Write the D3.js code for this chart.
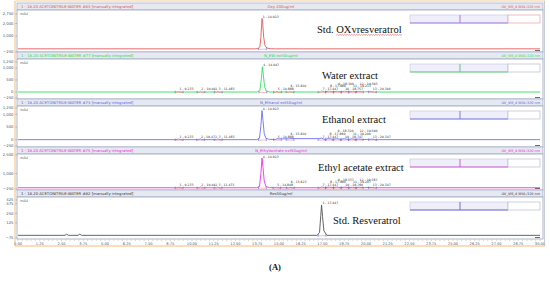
<!DOCTYPE html>
<html>
<head>
<meta charset="utf-8">
<script src="https://cdn.jsdelivr.net/npm/d3@7"></script>
<style>
  body { margin: 0; background: #fff; }
  svg text { font-family: "DejaVu Sans", sans-serif; }
  svg text.serif { font-family: "Liberation Serif", serif; }
</style>
</head>
<body>
<svg id="chart" width="550" height="281"></svg>
<script>
// ---- data (time in min, signal in mAU) ----
const xTickValues = [0, 1.25, 2.5, 3.75, 5, 6.25, 7.5, 8.75, 10, 11.25, 12.5, 13.75, 15,
  16.25, 17.5, 18.75, 20, 21.25, 22.5, 23.75, 25, 26.25, 27.5, 28.75, 30];

const sampleNames = ["Oxy 200ug/ml", "N_EW ext50ug/ml", "N_Ethanol ext50ug/ml",
  "N_Ethylacetate ext50ug/ml", "Res50ug/ml"];
const injectionNames = [
  "1 - 18.20  ACETONITRILE:WATER #83 [manually integrated]",
  "1 - 18.20  ACETONITRILE:WATER #77 [manually integrated]",
  "1 - 18.20  ACETONITRILE:WATER #73 [manually integrated]",
  "1 - 18.20  ACETONITRILE:WATER #75 [manually integrated]",
  "1 - 18.20  ACETONITRILE:WATER #82 [manually integrated]"
];
const channelName = "UV_VIS_4 WVL:320 nm";
const annotations = ["Std. OXvresveratrol", "Water extract", "Ethanol extract",
  "Ethyl acetate extract", "Std. Resveratrol"];

const yDomains = [[-250, 2750], [-250, 1250], [-250, 1250], [-250, 2500], [-75, 425]];
const yTicks = [
  [2750, 2000, 1000, -250],
  [1250, 1000, 500, 0, -250],
  [1250, 1000, 500, 0, -250],
  [2500, 1000, -250],
  [425, 375, 250, 125, -75]
];

const oxyTrace = [[0, 0], [13.6, 0], [13.8, 20], [13.9, 150], [13.96, 900], [14.0, 1900],
  [14.023, 2400], [14.06, 2050], [14.12, 900], [14.2, 250], [14.3, 60], [14.5, 10], [14.8, 0], [30, 0]];

const waterTrace = [[0, 0], [9.15, 0], [9.233, 25], [9.31, 0], [10.42, 0], [10.492, 30], [10.56, 0],
  [11.41, 0], [11.483, 35], [11.55, 0], [13.75, 0], [13.9, 60], [13.98, 520], [14.047, 1050],
  [14.1, 720], [14.17, 220], [14.27, 40], [14.45, 0], [14.82, 0], [14.888, 30], [14.95, 0],
  [15.55, 0], [15.61, 25], [15.68, 0], [17.38, 0], [17.447, 40], [17.6, 10], [17.88, 35],
  [18.1, 10], [18.34, 30], [18.55, 10], [18.757, 30], [19.0, 10], [19.213, 25], [19.4, 10],
  [19.593, 25], [19.9, 5], [20.34, 20], [20.5, 0], [30, 0]];

const ethanolTrace = [[0, 0], [9.15, 0], [9.233, 25], [9.31, 0], [10.4, 0], [10.472, 30], [10.54, 0],
  [11.41, 0], [11.483, 30], [11.55, 0], [13.72, 0], [13.88, 60], [13.96, 560], [14.023, 1150],
  [14.08, 760], [14.15, 240], [14.25, 50], [14.45, 10], [14.82, 10], [14.888, 45], [14.95, 30],
  [15.55, 35], [15.61, 60], [15.68, 40], [17.3, 40], [17.447, 60], [17.6, 15], [17.86, 40],
  [18.1, 15], [18.32, 35], [18.55, 15], [18.747, 35], [19.0, 10], [19.2, 30], [19.4, 10],
  [19.59, 25], [19.9, 5], [20.347, 20], [20.5, 0], [30, 0]];

const ethylTrace = [[0, -150], [9.15, -150], [9.233, -110], [9.31, -150], [10.42, -150], [10.492, -100],
  [10.56, -150], [11.4, -150], [11.473, -100], [11.55, -150], [13.72, -150], [13.88, -40],
  [13.96, 1000], [14.023, 2250], [14.08, 1500], [14.15, 400], [14.25, -60], [14.45, -140],
  [14.78, -150], [14.848, -100], [14.92, -150], [15.55, -150], [15.623, -110], [15.7, -150],
  [17.37, -150], [17.447, -90], [17.6, -140], [17.88, -100], [18.1, -140], [18.337, -100],
  [18.55, -140], [18.76, -100], [19.0, -140], [19.207, -110], [19.4, -140], [19.587, -110],
  [19.9, -145], [20.347, -120], [20.5, -150], [30, -150]];

const resTrace = [[0, -40], [2.7, -40], [2.8, -25], [2.9, -40], [3.45, -40], [3.55, -25], [3.65, -40],
  [17.2, -40], [17.33, 0], [17.4, 220], [17.447, 360], [17.5, 210], [17.58, 20], [17.75, -40], [30, -40]];

const traces = [oxyTrace, waterTrace, ethanolTrace, ethylTrace, resTrace];

// labelled peaks (retention times)
const oxyPeaks = [14.023];
const waterPeaks = [9.233, 10.492, 11.483, 14.047, 14.888, 15.610, 17.447, 17.880, 18.340, 18.757, 19.213, 19.593, 20.340];
const ethanolPeaks = [9.233, 10.472, 11.483, 14.023, 14.888, 15.610, 17.447, 17.860, 18.320, 18.747, 19.200, 19.590, 20.347];
const ethylPeaks = [9.233, 10.492, 11.473, 14.023, 14.848, 15.623, 17.447, 17.880, 18.337, 18.760, 19.207, 19.587, 20.347];
const resPeaks = [17.447];
const peakLists = [oxyPeaks, waterPeaks, ethanolPeaks, ethylPeaks, resPeaks];
const mainPeakIndex = [0, 3, 3, 3, 0];

// ---- styling / layout ----
const traceColors = ["#e8585a", "#2fe05a", "#6f6ff0", "#f030e0", "#555555"];
const headColors = ["#e05050", "#22dd44", "#5b5bf0", "#ee22dd", "#333333"];
const legendColors = ["#a070e0", "#50cc70", "#7070e8", "#d050d0", "#6060d0"];
const panels = [
  { hy: 3, top: 10, bot: 52, r: [52, 14] },
  { hy: 52, top: 59, bot: 99, r: [98, 62] },
  { hy: 99, top: 106, bot: 147, r: [146, 108] },
  { hy: 147, top: 154, bot: 190, r: [189, 155] },
  { hy: 190, top: 197, bot: 239, r: [238, 200] }
];
const annoY = [33, 79, 123, 171, 224];
const annoX = [317, 322, 322, 318, 333];

const svg = d3.select("#chart");
const x = d3.scaleLinear().domain([0, 30]).range([18, 540]);
const fmtY = d3.format(",");

panels.forEach((p, i) => {
  const y = d3.scaleLinear().domain(yDomains[i]).range(p.r);
  const g = svg.append("g");

  // header bar
  g.append("rect").attr("x", 17).attr("y", p.hy).attr("width", 526).attr("height", p.top - p.hy)
    .attr("fill", "#e6e9f1").attr("stroke", "#a4adc2").attr("stroke-width", 0.7);
  g.append("text").attr("x", 21).attr("y", p.hy + 4.8).attr("font-size", 3.8)
    .attr("fill", headColors[i]).text(injectionNames[i]);
  g.append("text").attr("x", 281).attr("y", p.hy + 4.8).attr("font-size", 3.8)
    .attr("text-anchor", "middle").attr("fill", headColors[i]).text(sampleNames[i]);
  g.append("text").attr("x", 540).attr("y", p.hy + 4.8).attr("font-size", 3.4)
    .attr("text-anchor", "end").attr("fill", headColors[i]).text(channelName);

  // plot area
  g.append("rect").attr("x", 17).attr("y", p.top).attr("width", 526).attr("height", p.bot - p.top)
    .attr("fill", "#fff").attr("stroke", "#a4adc2").attr("stroke-width", 0.9);
  g.append("text").attr("x", 20).attr("y", p.top + 5).attr("font-size", 3.4)
    .attr("fill", "#555").text("mAU");
  g.append("line").attr("x1", 535).attr("x2", 540).attr("y1", p.bot - 1.5).attr("y2", p.bot - 1.5)
    .attr("stroke", "#444").attr("stroke-width", 0.8);

  // y ticks
  yTicks[i].forEach((v) => {
    g.append("line").attr("x1", 15).attr("x2", 17).attr("y1", y(v)).attr("y2", y(v))
      .attr("stroke", "#888").attr("stroke-width", 0.5);
    g.append("text").attr("x", 13.5).attr("y", y(v) + 1.3).attr("font-size", 3.8)
      .attr("text-anchor", "end").attr("fill", "#4a5670").text(fmtY(v));
  });

  // legend boxes (top right)
  const ly = p.top + 5;
  [[410, 460], [460, 508]].forEach(([a, b]) => {
    g.append("rect").attr("x", a).attr("y", ly).attr("width", b - a).attr("height", 8)
      .attr("fill", "#efeefb").attr("stroke", "#c6c4dc").attr("stroke-width", 0.6);
    g.append("line").attr("x1", a).attr("x2", b).attr("y1", ly + 8).attr("y2", ly + 8)
      .attr("stroke", legendColors[i]).attr("stroke-width", 0.9);
  });
  g.append("line").attr("x1", 460).attr("x2", 460).attr("y1", ly).attr("y2", ly + 8)
    .attr("stroke", legendColors[i]).attr("stroke-width", 0.7);
  g.append("rect").attr("x", 508).attr("y", ly).attr("width", 32).attr("height", 8)
    .attr("fill", "#fff").attr("stroke", i === 0 ? "#e8a0a0" : "#b8bccc").attr("stroke-width", 0.7);

  // trace
  const trace = traces[i];
  const line = d3.line().x((d) => x(d[0])).y((d) => y(d[1]));
  g.append("path").datum(trace).attr("d", line).attr("fill", "none")
    .attr("stroke", traceColors[i]).attr("stroke-width", 0.9);

  // peak markers and labels
  const base = trace[0][1];
  peakLists[i].forEach((t, k) => {
    const bx = x(t);
    const by = y(base);
    g.append("line").attr("x1", x(t - 0.2)).attr("x2", x(t + 0.25)).attr("y1", by + 0.4).attr("y2", by + 0.4)
      .attr("stroke", "#f07070").attr("stroke-width", 0.5);
    g.append("line").attr("x1", x(t - 0.2)).attr("x2", x(t - 0.2)).attr("y1", by - 1.2).attr("y2", by + 1.4)
      .attr("stroke", "#4a5ae0").attr("stroke-width", 0.5);
    g.append("line").attr("x1", x(t + 0.25)).attr("x2", x(t + 0.25)).attr("y1", by - 1.2).attr("y2", by + 1.4)
      .attr("stroke", "#4a5ae0").attr("stroke-width", 0.5);
    let ty = by - 2;
    if (k === mainPeakIndex[i]) {
      const top = d3.max(trace, (d) => d[1]);
      ty = y(top) - 0.5;
    } else if (t > 17) {
      // crowded cluster: stagger over three rows
      ty = by - 2 - ((k - 6) % 3) * 2.6;
    } else if (t > 15) {
      ty = by - 4.6;
    }
    g.append("text").attr("x", bx + 0.8).attr("y", ty).attr("font-size", 3.1)
      .attr("fill", "#333").text(`${k + 1} - ${t.toFixed(3)}`);
  });

  // annotation
  const at = g.append("text").attr("class", "serif").attr("x", annoX[i]).attr("y", annoY[i])
    .attr("font-size", 10.5).attr("fill", "#111").text(annotations[i]);
  if (i === 0) {
    const node = at.node();
    const x0 = annoX[0] + node.getSubStringLength(0, 5);
    const x1 = annoX[0] + node.getComputedTextLength();
    let d = `M${x0},${annoY[0] + 2.2}`;
    for (let xx = x0, up = true; xx < x1; xx += 1.2, up = !up) {
      d += `L${xx + 1.2},${annoY[0] + (up ? 1.3 : 2.4)}`;
    }
    g.append("path").attr("d", d).attr("fill", "none").attr("stroke", "#e03030").attr("stroke-width", 0.5);
  }
});

// x axis
const minor = d3.range(0, 30.001, 0.25);
svg.append("g").selectAll("line").data(minor).enter().append("line")
  .attr("x1", (d) => x(d)).attr("x2", (d) => x(d)).attr("y1", 239.5).attr("y2", 241)
  .attr("stroke", "#999").attr("stroke-width", 0.4);
svg.append("g").selectAll("text").data(xTickValues).enter().append("text")
  .attr("x", (d) => x(d)).attr("y", 244.6).attr("font-size", 3.6)
  .attr("text-anchor", "middle").attr("fill", "#555").text((d) => d.toFixed(2));

// orange frame lines
svg.append("line").attr("x1", 15).attr("x2", 15).attr("y1", 1).attr("y2", 246)
  .attr("stroke", "#f2b46e").attr("stroke-width", 0.9);
svg.append("line").attr("x1", 15).attr("x2", 545).attr("y1", 1).attr("y2", 1)
  .attr("stroke", "#f2c896").attr("stroke-width", 0.9);
svg.append("line").attr("x1", 15).attr("x2", 545).attr("y1", 246).attr("y2", 246)
  .attr("stroke", "#f2b46e").attr("stroke-width", 0.9);
svg.append("line").attr("x1", 544.5).attr("x2", 544.5).attr("y1", 1).attr("y2", 246)
  .attr("stroke", "#b8c0d2").attr("stroke-width", 0.8);

// panel caption
svg.append("text").attr("class", "serif").attr("x", 275).attr("y", 270).attr("text-anchor", "middle")
  .attr("font-weight", "bold").attr("font-size", 8.5).attr("fill", "#111").text("(A)");
</script>
</body>
</html>
